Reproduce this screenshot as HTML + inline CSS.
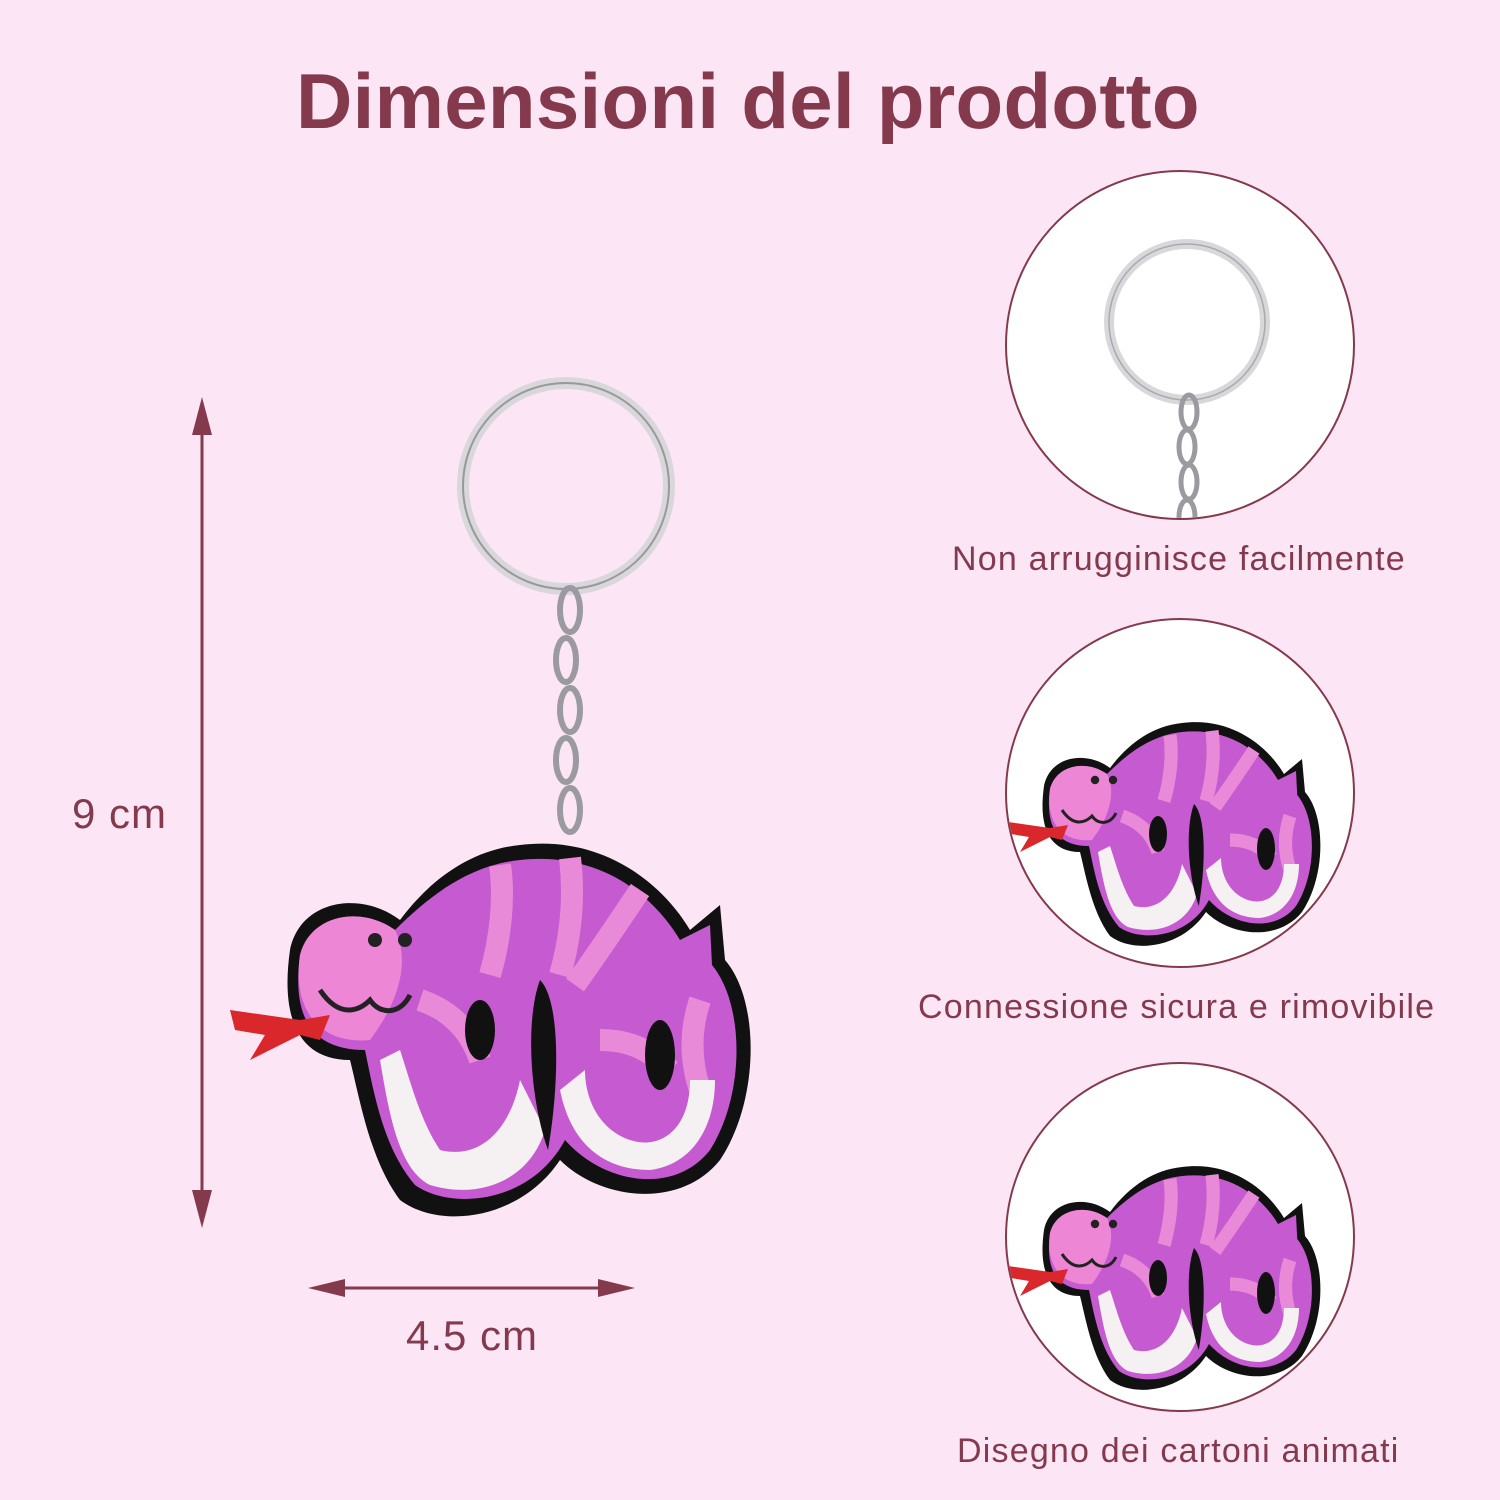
<!DOCTYPE html>
<html><head><meta charset="utf-8"><style>
html,body{margin:0;padding:0}
body{width:1500px;height:1500px;background:#fce6f6;position:relative;overflow:hidden;font-family:"Liberation Sans",sans-serif;color:#843a4c}
.t{position:absolute;white-space:nowrap}
.circ{position:absolute;width:346px;height:346px;border-radius:50%;background:#fff;border:2px solid #843a4c;overflow:hidden}
.cap{font-size:34px;letter-spacing:1.2px}
</style></head><body>
<div class="t" style="left:296px;top:56px;font-size:78px;font-weight:bold;letter-spacing:0.3px">Dimensioni del prodotto</div>
<svg width="1500" height="1500" style="position:absolute;left:0;top:0">
<defs>
<g id="snake">
 <path d="M290,950 C300,900 360,890 400,920 C430,880 470,850 520,845 C600,835 660,880 690,930 L720,905 L725,960 C760,1000 760,1100 720,1160 C680,1210 600,1200 560,1160 C520,1220 440,1230 400,1200 C370,1160 360,1100 350,1060 C300,1060 280,1020 290,950 Z" fill="#111"/>
 <path d="M300,955 C310,915 360,905 395,930 C430,895 470,865 520,860 C595,852 650,890 680,940 L710,925 L712,965 C745,1005 745,1095 710,1150 C675,1195 605,1185 565,1140 C530,1205 450,1210 415,1185 C385,1150 375,1100 365,1050 C310,1050 292,1015 300,955 Z" fill="#c65ad0"/>
 <g stroke="#e98ad8" stroke-width="22" fill="none">
  <path d="M500,865 C505,900 500,940 490,975"/>
  <path d="M570,858 C575,900 570,940 560,975"/>
  <path d="M640,890 C620,920 600,950 575,985"/>
  <path d="M420,1000 C450,1010 470,1030 480,1060"/>
  <path d="M600,1040 C630,1040 650,1050 670,1070"/>
  <path d="M700,1000 C690,1030 690,1060 700,1090"/>
 </g>
 <path d="M300,955 C310,915 360,905 395,930 C410,960 400,1000 370,1040 C320,1045 292,1010 300,955 Z" fill="#ee86d6"/>
 <path d="M380,1060 C390,1120 400,1170 430,1185 C480,1200 530,1180 545,1130 L520,1080 C510,1130 480,1160 440,1150 C420,1120 410,1080 400,1050 Z" fill="#f5f0f2"/>
 <path d="M560,1090 C570,1140 600,1170 650,1170 C690,1165 715,1130 715,1080 L690,1080 C690,1130 660,1150 630,1140 C600,1130 585,1100 585,1070 Z" fill="#f5f0f2"/>
 <path d="M540,980 C560,1000 560,1080 548,1150 C530,1100 525,1020 540,980 Z" fill="#111"/>
 <ellipse cx="660" cy="1055" rx="15" ry="35" fill="#111"/>
 <ellipse cx="480" cy="1030" rx="15" ry="30" fill="#111"/>
 <path d="M230,1010 L300,1020 L330,1015 L320,1040 L300,1035 L250,1060 L265,1035 L235,1030 Z" fill="#d9272b"/>
 <circle cx="375" cy="940" r="7" fill="#222"/><circle cx="405" cy="940" r="7" fill="#222"/>
 <path d="M320,990 C340,1020 360,1010 370,1000 C380,1015 400,1015 410,995" stroke="#222" stroke-width="5" fill="none"/>
</g>
</defs>
<circle cx="566" cy="486" r="103" fill="none" stroke="#d8d8dc" stroke-width="12"/>
<circle cx="566" cy="486" r="103" fill="none" stroke="#999" stroke-width="2"/>
<g fill="none" stroke="#9a9aa0" stroke-width="6">
 <ellipse cx="570" cy="610" rx="10" ry="22"/><ellipse cx="566" cy="660" rx="10" ry="22"/><ellipse cx="570" cy="710" rx="10" ry="22"/><ellipse cx="566" cy="760" rx="10" ry="22"/><ellipse cx="570" cy="810" rx="10" ry="22"/>
</g>
<use href="#snake"/>
<line x1="202" y1="410" x2="202" y2="1215" stroke="#843a4c" stroke-width="3"/>
<polygon points="202,397 192,435 212,435" fill="#843a4c"/>
<polygon points="202,1228 192,1190 212,1190" fill="#843a4c"/>
<line x1="320" y1="1288" x2="622" y2="1288" stroke="#843a4c" stroke-width="3"/>
<polygon points="308,1288 345,1279 345,1297" fill="#843a4c"/>
<polygon points="635,1288 598,1279 598,1297" fill="#843a4c"/>
</svg>
<div class="t" style="left:72px;top:790px;font-size:42px;letter-spacing:1px">9 cm</div>
<div class="t" style="left:406px;top:1312px;font-size:42px;letter-spacing:1px">4.5 cm</div>

<div class="circ" style="left:1005px;top:170px">
<svg width="346" height="346"><circle cx="180" cy="150" r="78" fill="none" stroke="#d8d8dc" stroke-width="10"/><circle cx="180" cy="150" r="78" fill="none" stroke="#aaa" stroke-width="1.5"/>
<g fill="none" stroke="#9a9aa0" stroke-width="5"><ellipse cx="182" cy="240" rx="8" ry="17"/><ellipse cx="180" cy="275" rx="8" ry="17"/><ellipse cx="182" cy="310" rx="8" ry="17"/><ellipse cx="180" cy="345" rx="8" ry="17"/></g></svg>
</div>
<div class="t cap" style="left:952px;top:540px">Non arrugginisce facilmente</div>

<div class="circ" style="left:1005px;top:618px">
<svg width="346" height="346"><g transform="translate(-5,-20) scale(0.6) translate(-220,-640)"><use href="#snake"/></g></svg>
</div>
<div class="t cap" style="left:918px;top:988px">Connessione sicura e rimovibile</div>

<div class="circ" style="left:1005px;top:1062px">
<svg width="346" height="346"><g transform="translate(-5,-20) scale(0.6) translate(-220,-640)"><use href="#snake"/></g></svg>
</div>
<div class="t cap" style="left:957px;top:1432px">Disegno dei cartoni animati</div>
</body></html>
